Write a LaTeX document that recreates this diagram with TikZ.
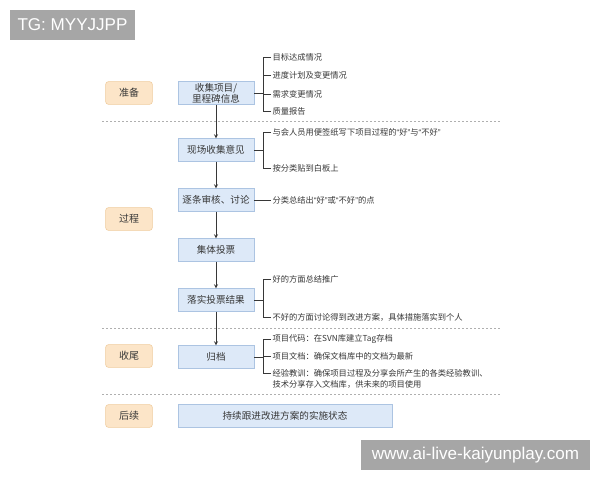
\documentclass[tikz,border=0pt]{standalone}
\usepackage{fontspec}
\setmainfont{Noto Sans CJK SC}
\newfontfamily\wmfont{Liberation Sans}
\newcommand\cnqo{{\wmfont “}}
\newcommand\cnqc{{\wmfont ”}}
\usetikzlibrary{positioning}
\definecolor{phasefill}{RGB}{252,229,200}
\definecolor{phaseline}{RGB}{240,204,158}
\definecolor{boxfill}{RGB}{221,233,248}
\definecolor{boxline}{RGB}{172,196,226}
\definecolor{inkgray}{RGB}{55,55,55}
\definecolor{sepgray}{RGB}{175,175,175}
\definecolor{wmgray}{RGB}{166,166,166}

\begin{document}
\begin{tikzpicture}[x=0.75pt,y=-0.75pt,->,>=stealth,node distance=37.5pt,thin,
  phase/.style={rounded corners=2pt,draw=phaseline,fill=phasefill,minimum width=35pt,minimum height=17pt,inner sep=0pt,text=inkgray,font=\fontsize{7.5}{9}\selectfont},
  stepbox/.style={draw=boxline,fill=boxfill,minimum width=57pt,minimum height=17pt,inner sep=0pt,align=center,text=inkgray,font=\fontsize{7.2}{8.25}\selectfont},
  item/.style={anchor=west,inner sep=1pt,text=inkgray,font=\fontsize{6.2}{7.5}\selectfont},
  sep/.style={-,draw=sepgray,dash pattern=on 1.5pt off 1.5pt},
  wm/.style={fill=wmgray,text=white,minimum height=22.5pt,inner sep=0pt,font=\wmfont\fontsize{12.8}{14}\selectfont}]

  \useasboundingbox[fill=white] (0,0) rectangle (600,480);

  % phases
  \node[phase] (p1) at (129,93) {准备};
  \node[phase] (p2) at (129,219) {过程};
  \node[phase] (p3) at (129,356) {收尾};
  \node[phase] (p4) at (129,416) {后续};

  % separators
  \draw[sep] (102,121) -- (500,121);
  \draw[sep] (102,328) -- (500,328);
  \draw[sep] (102,394) -- (500,394);

  % main steps
  \node[stepbox] (b1) at (216,93) {收集项目/\\里程碑信息};
  \node[stepbox] (b2) [below of = b1, node distance=42.75pt] {现场收集意见};
  \node[stepbox] (b3) [below of = b2] {逐条审核、讨论};
  \node[stepbox] (b4) [below of = b3] {集体投票};
  \node[stepbox] (b5) [below of = b4] {落实投票结果};
  \node[stepbox] (b6) [below of = b5, node distance=42.75pt] {归档};
  \node[stepbox, minimum width=160.5pt] (b7) at (285,416) {持续跟进改进方案的实施状态};

  \draw[draw=inkgray] (b1) -- (b2);
  \draw[draw=inkgray] (b2) -- (b3);
  \draw[draw=inkgray] (b3) -- (b4);
  \draw[draw=inkgray] (b4) -- (b5);
  \draw[draw=inkgray] (b5) -- (b6);

  % notes
  \node[item] (a1) at (271,57) {目标达成情况};
  \node[item] (a2) at (271,75) {进度计划及变更情况};
  \node[item] (a3) at (271,94) {需求变更情况};
  \node[item] (a4) at (271,111) {质量报告};
  \node[item] (n1) at (271,132) {与会人员用便签纸写下项目过程的\cnqo 好\cnqc 与\cnqo 不好\cnqc};
  \node[item] (n2) at (271,168) {按分类贴到白板上};
  \node[item] (d1) at (271,200) {分类总结出\cnqo 好\cnqc 或\cnqo 不好\cnqc 的点};
  \node[item] (r1) at (271,279) {好的方面总结推广};
  \node[item] (r2) at (271,317) {不好的方面讨论得到改进方案，具体措施落实到个人};
  \node[item] (c1) at (271,339) {项目代码：在SVN库建立Tag存档};
  \node[item] (c2) at (271,356) {项目文档：确保文档库中的文档为最新};
  \node[item] (c3) at (271,373) {经验教训：确保项目过程及分享会所产生的各类经验教训、};
  \node[item] (c4) at (271,384) {技术分享存入文档库，供未来的项目使用};

  % brackets
  \coordinate (k1) at ([xshift=6.5pt]b1.east);
  \coordinate (k2) at ([xshift=6.5pt]b2.east);
  \coordinate (k5) at ([xshift=6.5pt]b5.east);
  \coordinate (k6) at ([xshift=6.5pt]b6.east);
  \begin{scope}[-,draw=inkgray]
    \draw (b1.east) -- (k1);
    \draw (a1.west) -| (k1);
    \draw (a4.west) -| (k1);
    \draw (a2.west) -- (a2.west -| k1);
    \draw (a3.west) -- (a3.west -| k1);
    \draw (b2.east) -- (k2);
    \draw (n1.west) -| (k2);
    \draw (n2.west) -| (k2);
    \draw (b3.east) -- (d1.west);
    \draw (b5.east) -- (k5);
    \draw (r1.west) -| (k5);
    \draw (r2.west) -| (k5);
    \draw (b6.east) -- (k6);
    \draw (c1.west) -| (k6);
    \draw (c3.west) -| (k6);
    \draw (c2.west) -- (c2.west -| k6);
  \end{scope}

  % marks
  \node[wm, minimum width=93.75pt] (tg) at (72.5,25) {TG: MYYJJPP};
  \node[wm, minimum width=171.75pt] (site) at (475.5,455) {www.ai-live-kaiyunplay.com};
\end{tikzpicture}
\end{document}
